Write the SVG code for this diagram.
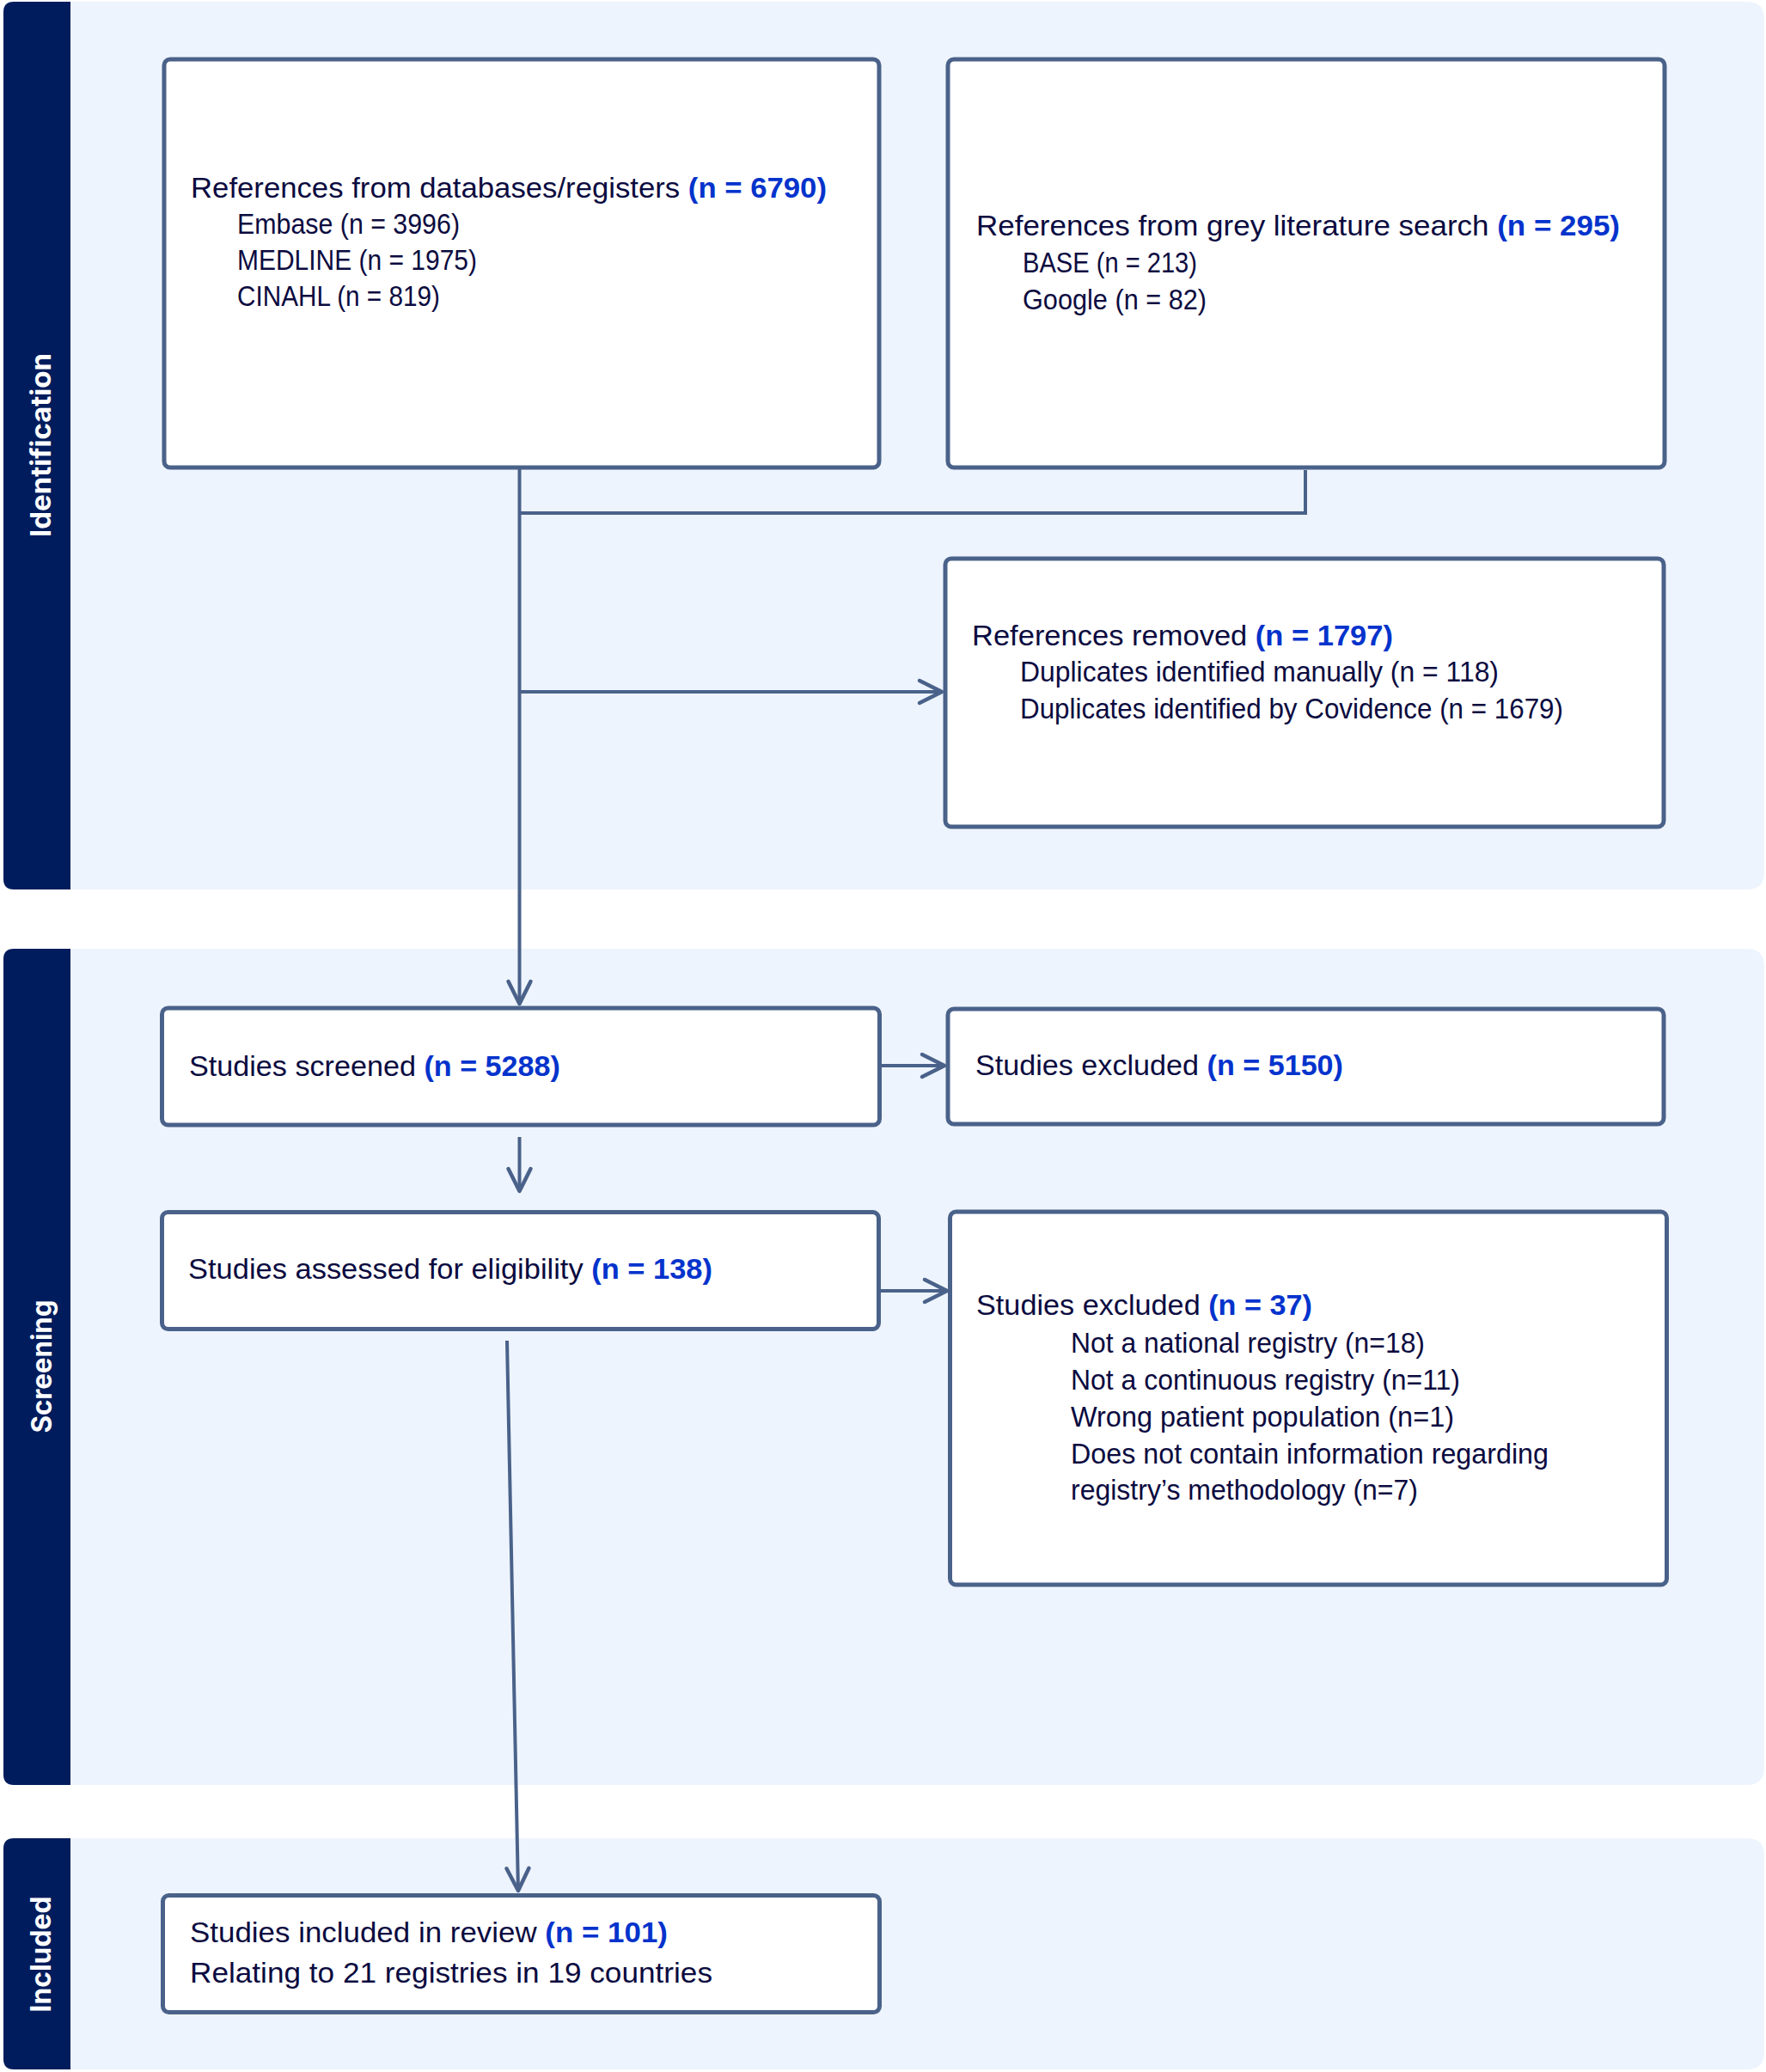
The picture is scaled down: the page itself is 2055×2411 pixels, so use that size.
<svg xmlns="http://www.w3.org/2000/svg" width="2055" height="2411" viewBox="0 0 2055 2411">
<style>
.band{fill:#EEF4FD}
.side{fill:#001C5C}
.lbl{font-family:Inter,"Open Sans","Liberation Sans",sans-serif;font-weight:700;font-size:32px;fill:#FFFFFF}
.box{fill:#FFFFFF;stroke:#4A628A;stroke-width:5}
.t{font-family:"Liberation Sans",Arial,sans-serif;font-size:33px;fill:#0B0B40}
.n{font-weight:700;fill:#0433CC}
.con{fill:none;stroke:#4A628A;stroke-width:4}
</style>
<defs>
<marker id="arr" markerUnits="userSpaceOnUse" markerWidth="40" markerHeight="40" viewBox="-30 -20 34 40" refX="0" refY="0" orient="auto">
<path d="M-26,-13 L0,0 L-26,13" fill="none" stroke="#4A628A" stroke-width="4.5" stroke-linecap="round" stroke-linejoin="round"/>
</marker>
</defs>
<rect width="2055" height="2411" fill="#FFFFFF"/>
<g id="band-identification">
<path class="band" d="M82,2 H2033 Q2053,2 2053,22 V1015 Q2053,1035 2033,1035 H82 Z"/>
<path class="side" d="M82,2 V1035 H16 Q4,1035 4,1023 V14 Q4,2 16,2 Z"/>
<text class="lbl" transform="translate(59,518) rotate(-90)" text-anchor="middle" textLength="214" lengthAdjust="spacingAndGlyphs">Identification</text>
</g>
<g id="band-screening">
<path class="band" d="M82,1104 H2033 Q2053,1104 2053,1124 V2057 Q2053,2077 2033,2077 H82 Z"/>
<path class="side" d="M82,1104 V2077 H16 Q4,2077 4,2065 V1116 Q4,1104 16,1104 Z"/>
<text class="lbl" transform="translate(60,1590) rotate(-90)" text-anchor="middle" textLength="155" lengthAdjust="spacingAndGlyphs">Screening</text>
</g>
<g id="band-included">
<path class="band" d="M82,2139 H2033 Q2053,2139 2053,2159 V2388 Q2053,2408 2033,2408 H82 Z"/>
<path class="side" d="M82,2139 V2408 H16 Q4,2408 4,2396 V2151 Q4,2139 16,2139 Z"/>
<text class="lbl" transform="translate(59,2274) rotate(-90)" text-anchor="middle" textLength="135" lengthAdjust="spacingAndGlyphs">Included</text>
</g>
<g id="connectors">
<path class="con" d="M604.5,545 V1168" marker-end="url(#arr)"/>
<path class="con" d="M1519,547 V597 H604.5"/>
<path class="con" d="M604.5,805 H1096" marker-end="url(#arr)"/>
<path class="con" d="M1026,1240 H1099" marker-end="url(#arr)"/>
<path class="con" d="M604.5,1323 V1386" marker-end="url(#arr)"/>
<path class="con" d="M1025,1502 H1102" marker-end="url(#arr)"/>
<path class="con" d="M590,1560 L603,2200" marker-end="url(#arr)"/>
</g>
<g id="node-databases">
<rect class="box" x="191" y="69" width="832" height="475" rx="7"/>
<text class="t" x="222" y="230" textLength="740" lengthAdjust="spacingAndGlyphs">References from databases/registers <tspan class="n">(n = 6790)</tspan></text>
<text class="t" x="276" y="272" textLength="259" lengthAdjust="spacingAndGlyphs">Embase (n = 3996)</text>
<text class="t" x="276" y="314" textLength="279" lengthAdjust="spacingAndGlyphs">MEDLINE (n = 1975)</text>
<text class="t" x="276" y="356" textLength="236" lengthAdjust="spacingAndGlyphs">CINAHL (n = 819)</text>
</g>
<g id="node-grey">
<rect class="box" x="1103" y="69" width="834" height="475" rx="7"/>
<text class="t" x="1136" y="274" textLength="749" lengthAdjust="spacingAndGlyphs">References from grey literature search <tspan class="n">(n = 295)</tspan></text>
<text class="t" x="1190" y="317" textLength="203" lengthAdjust="spacingAndGlyphs">BASE (n = 213)</text>
<text class="t" x="1190" y="360" textLength="214" lengthAdjust="spacingAndGlyphs">Google (n = 82)</text>
</g>
<g id="node-removed">
<rect class="box" x="1100" y="650" width="836" height="312" rx="7"/>
<text class="t" x="1131" y="751" textLength="490" lengthAdjust="spacingAndGlyphs">References removed <tspan class="n">(n = 1797)</tspan></text>
<text class="t" x="1187" y="793" textLength="557" lengthAdjust="spacingAndGlyphs">Duplicates identified manually (n = 118)</text>
<text class="t" x="1187" y="836" textLength="632" lengthAdjust="spacingAndGlyphs">Duplicates identified by Covidence (n = 1679)</text>
</g>
<g id="node-screened">
<rect class="box" x="188.5" y="1173" width="835" height="136" rx="7"/>
<text class="t" x="220" y="1252" textLength="432" lengthAdjust="spacingAndGlyphs">Studies screened <tspan class="n">(n = 5288)</tspan></text>
</g>
<g id="node-excluded1">
<rect class="box" x="1103" y="1174" width="833" height="134" rx="7"/>
<text class="t" x="1135" y="1251" textLength="428" lengthAdjust="spacingAndGlyphs">Studies excluded <tspan class="n">(n = 5150)</tspan></text>
</g>
<g id="node-eligibility">
<rect class="box" x="188.5" y="1410.5" width="834" height="136" rx="7"/>
<text class="t" x="219" y="1488" textLength="610" lengthAdjust="spacingAndGlyphs">Studies assessed for eligibility <tspan class="n">(n = 138)</tspan></text>
</g>
<g id="node-excluded2">
<rect class="box" x="1105.5" y="1410" width="834" height="434" rx="7"/>
<text class="t" x="1136" y="1530" textLength="391" lengthAdjust="spacingAndGlyphs">Studies excluded <tspan class="n">(n = 37)</tspan></text>
<text class="t" x="1246" y="1574" textLength="412" lengthAdjust="spacingAndGlyphs">Not a national registry (n=18)</text>
<text class="t" x="1246" y="1617" textLength="453" lengthAdjust="spacingAndGlyphs">Not a continuous registry (n=11)</text>
<text class="t" x="1246" y="1660" textLength="446" lengthAdjust="spacingAndGlyphs">Wrong patient population (n=1)</text>
<text class="t" x="1246" y="1703" textLength="556" lengthAdjust="spacingAndGlyphs">Does not contain information regarding</text>
<text class="t" x="1246" y="1745" textLength="404" lengthAdjust="spacingAndGlyphs">registry’s methodology (n=7)</text>
</g>
<g id="node-included">
<rect class="box" x="189.5" y="2205.5" width="834" height="136" rx="7"/>
<text class="t" x="221" y="2260" textLength="556" lengthAdjust="spacingAndGlyphs">Studies included in review <tspan class="n">(n = 101)</tspan></text>
<text class="t" x="221" y="2307" textLength="608" lengthAdjust="spacingAndGlyphs">Relating to 21 registries in 19 countries</text>
</g>
</svg>
